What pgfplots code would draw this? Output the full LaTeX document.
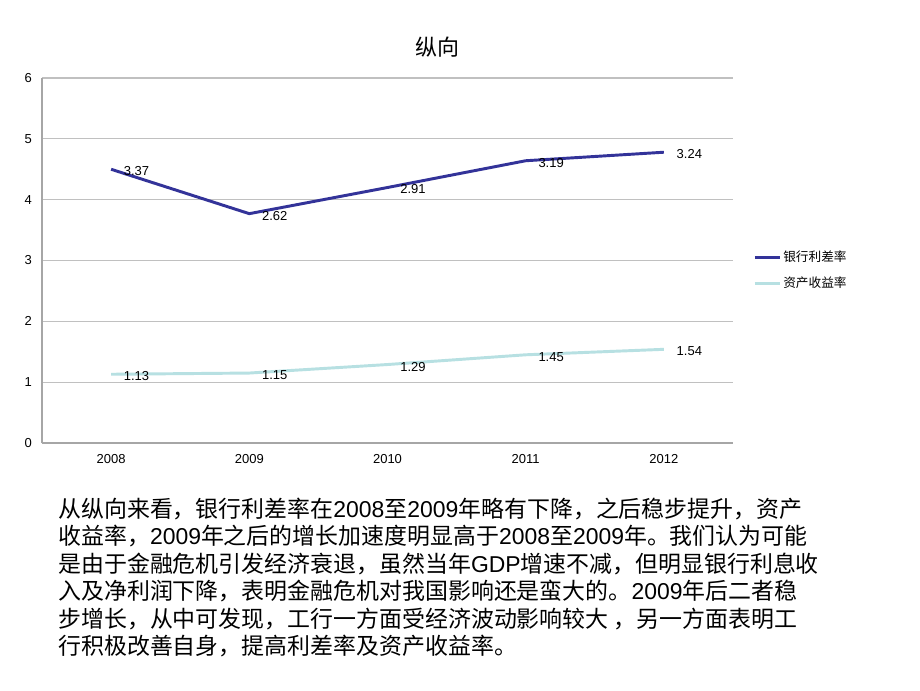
\documentclass[border=0pt]{standalone}
\usepackage{pgfplots}
\pgfplotsset{compat=1.18}
\usepackage{pgfplotstable}
\usepackage{fontspec}
\setmainfont{Liberation Sans}
\newfontfamily\cjk{Noto Sans CJK SC}
\definecolor{navy}{RGB}{51,51,153}
\definecolor{lcyan}{RGB}{183,224,226}
\definecolor{gridc}{RGB}{192,192,192}
\pgfkeys{/pgf/number format/assume math mode=true}
\pgfplotstableread{
x ret spread
0 1.13 3.37
1 1.15 2.62
2 1.29 2.91
3 1.45 3.19
4 1.54 3.24
}\datatab
\begin{document}
\begin{tikzpicture}
\path[use as bounding box] (0,0) rectangle (690pt,517.5pt);
\fill[white] (0,0) rectangle (690pt,517.5pt);
\begin{axis}[
  at={(31.5pt,185.25pt)}, anchor=south west,
  scale only axis, width=518.25pt, height=273.75pt,
  xmin=-0.5, xmax=4.5, ymin=0, ymax=6,
  xtick={0,1,2,3,4}, xticklabels={2008,2009,2010,2011,2012},
  ytick={0,1,2,3,4,5,6},
  stack plots=y,
  ymajorgrids, grid style={gridc, line width=0.8pt},
  axis x line*=bottom, axis y line*=left,
  axis line style={gray!70, line width=0.8pt},
  major tick length=0pt,
  tick label style={font=\fontsize{9.75}{11}\selectfont},
  yticklabel style={xshift=-4pt},
  xticklabel style={yshift=-5pt},
  nodes near coords,
  point meta=explicit,
  nodes near coords style={anchor=west, inner sep=0pt, xshift=8.5pt, yshift=-1.5pt, font=\fontsize{9.75}{11}\selectfont, text=black},
  reverse legend,
  legend cell align=left,
  legend style={at={(1.029,0.4726)}, anchor=west, draw=none, fill=none, inner sep=0pt,
    font=\fontsize{9.5}{11}\selectfont, row sep=7pt, nodes={inner sep=1.5pt}},
  legend image code/.code={\draw[#1] (0cm,0cm) -- (0.66cm,0cm);},
]
\addplot[lcyan, line width=2.2pt, mark=none] table[x=x, y=ret, meta=ret] {\datatab};
\addlegendentry{\cjk 资产收益率}
\addplot[navy, line width=2.2pt, mark=none] table[x=x, y=spread, meta=spread] {\datatab};
\addlegendentry{\cjk 银行利差率}
\end{axis}
\node[font=\cjk\fontsize{16.5}{20}\selectfont] at (327.75pt,482.25pt) {纵向};
\begin{scope}[every node/.style={anchor=base west, inner sep=0pt, font=\fontsize{17.2}{20}\selectfont}]
\node at (43.5pt,{(690-517.4)*0.75pt}) {{\cjk 从纵向来看，银行利差率在}2008{\cjk 至}2009{\cjk 年略有下降，之后稳步提升，资产}};
\node at (43.5pt,{(690-544.8)*0.75pt}) {{\cjk 收益率，}2009{\cjk 年之后的增长加速度明显高于}2008{\cjk 至}2009{\cjk 年。我们认为可能}};
\node at (43.5pt,{(690-572.2)*0.75pt}) {{\cjk 是由于金融危机引发经济衰退，虽然当年}GDP{\cjk 增速不减，但明显银行利息收}};
\node at (43.5pt,{(690-599.6)*0.75pt}) {{\cjk 入及净利润下降，表明金融危机对我国影响还是蛮大的。}2009{\cjk 年后二者稳}};
\node at (43.5pt,{(690-627.0)*0.75pt}) {{\cjk 步增长，从中可发现，工行一方面受经济波动影响较大 ，另一方面表明工}};
\node at (43.5pt,{(690-654.4)*0.75pt}) {{\cjk 行积极改善自身，提高利差率及资产收益率。}};
\end{scope}
\end{tikzpicture}
\end{document}
